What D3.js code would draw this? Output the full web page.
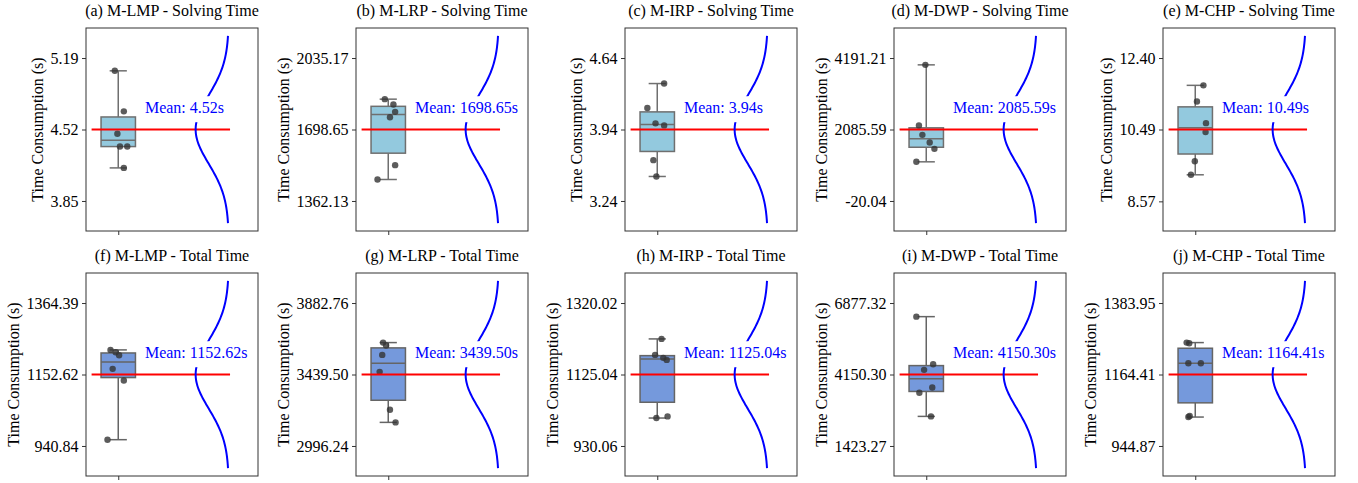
<!DOCTYPE html>
<html>
<head>
<meta charset="utf-8">
<script src="https://cdn.jsdelivr.net/npm/d3@7"></script>
<style>
  body { margin: 0; background: #fff; }
  text { font-family: "Liberation Serif", "Times New Roman", serif; }
</style>
</head>
<body>
<svg id="chart" width="1358" height="483"></svg>
<script>
// panel titles, row by row
const titles = [
    '(a) M-LMP - Solving Time', '(b) M-LRP - Solving Time', '(c) M-IRP - Solving Time',
    '(d) M-DWP - Solving Time', '(e) M-CHP - Solving Time',
    '(f) M-LMP - Total Time', '(g) M-LRP - Total Time', '(h) M-IRP - Total Time',
    '(i) M-DWP - Total Time', '(j) M-CHP - Total Time'
];

const means = [4.52, 1698.65, 3.94, 2085.59, 10.49, 1152.62, 3439.50, 1125.04, 4150.30, 1164.41];

// y tick labels (low, mean, high)
const yTicks = [
    ['3.85', '4.52', '5.19'],
    ['1362.13', '1698.65', '2035.17'],
    ['3.24', '3.94', '4.64'],
    ['-20.04', '2085.59', '4191.21'],
    ['8.57', '10.49', '12.40'],
    ['940.84', '1152.62', '1364.39'],
    ['2996.24', '3439.50', '3882.76'],
    ['930.06', '1125.04', '1320.02'],
    ['1423.27', '4150.30', '6877.32'],
    ['944.87', '1164.41', '1383.95']
];

// individual runs (seconds)
const runs = [
    [5.07, 4.69, 4.48, 4.36, 4.36, 4.16],
    [1841.5, 1816.4, 1781.8, 1756.6, 1530.7, 1463.3],
    [4.39, 4.15, 4.00, 3.98, 3.64, 3.48],
    [3989.9, 2203.4, 1928.5, 1702.8, 1516.3, 1133.4],
    [11.67, 11.24, 10.66, 10.42, 9.64, 9.28],
    [1225.5, 1218.6, 1209.8, 1169.4, 1134.9, 959.5],
    [3637.4, 3619.0, 3561.1, 3456.0, 3221.0, 3142.6],
    [1222.1, 1178.5, 1170.4, 1164.9, 1010.8, 1006.3],
    [6357.6, 4543.5, 4327.8, 3655.6, 3452.7, 2552.1],
    [1262.4, 1260.4, 1199.1, 1199.1, 1033.7, 1036.8]
];

// strip plot jitter (category units)
const jitter = [
    [-0.08, 0.13, -0.02, 0.04, 0.21, 0.13],
    [-0.08, 0.12, 0.16, 0.04, 0.16, -0.25],
    [0.16, -0.23, -0.04, 0.16, -0.09, -0.02],
    [-0.02, -0.17, -0.09, 0.08, 0.19, -0.23],
    [0.19, 0.04, 0.25, 0.24, -0.01, -0.10],
    [-0.18, -0.06, 0.02, -0.13, 0.13, -0.25],
    [-0.12, -0.05, -0.14, -0.20, 0.04, 0.17],
    [0.10, -0.05, 0.14, 0.22, 0.24, -0.02],
    [-0.23, 0.16, -0.05, 0.14, -0.16, 0.11],
    [-0.20, -0.14, -0.16, 0.13, -0.16, -0.13]
];

const boxColors = ['#93c9de', '#7599dc'];
const edgeColors = ['#6f6f6f', '#656565'];

const colLefts = [86, 356, 625, 894, 1163];
const rowTops = [28, 273];
const panelW = 172, panelH = 203;

const svg = d3.select('#chart');

titles.forEach((title, i) => {
    const row = Math.floor(i / 5), col = i % 5;
    const g = svg.append('g')
        .attr('transform', `translate(${colLefts[col]}, ${rowTops[row]})`);

    const ticks = yTicks[i].map(Number);
    const mean = means[i];
    const step = ticks[2] - ticks[1];
    const vals = runs[i];
    const sd = d3.deviation(vals);

    const x = d3.scaleLinear().domain([-0.75, 3.25]).range([0, panelW]);
    const y = d3.scaleLinear()
        .domain([mean - 1.42 * step, mean + 1.42 * step])
        .range([panelH, 0]);

    // box
    const sorted = vals.slice().sort(d3.ascending);
    const q1 = d3.quantile(sorted, 0.25);
    const med = d3.quantile(sorted, 0.5);
    const q3 = d3.quantile(sorted, 0.75);
    const lo = d3.min(vals), hi = d3.max(vals);
    const edge = edgeColors[row];

    g.append('line')
        .attr('x1', x(0)).attr('x2', x(0))
        .attr('y1', y(hi)).attr('y2', y(q3))
        .attr('stroke', edge).attr('stroke-width', 1.5);
    g.append('line')
        .attr('x1', x(0)).attr('x2', x(0))
        .attr('y1', y(q1)).attr('y2', y(lo))
        .attr('stroke', edge).attr('stroke-width', 1.5);
    [hi, lo].forEach(v => {
        g.append('line')
            .attr('x1', x(-0.2)).attr('x2', x(0.2))
            .attr('y1', y(v)).attr('y2', y(v))
            .attr('stroke', edge).attr('stroke-width', 1.5);
    });
    g.append('rect')
        .attr('x', x(-0.4)).attr('width', x(0.4) - x(-0.4))
        .attr('y', y(q3)).attr('height', y(q1) - y(q3))
        .attr('fill', boxColors[row])
        .attr('stroke', edge).attr('stroke-width', 1.5);
    g.append('line')
        .attr('x1', x(-0.4)).attr('x2', x(0.4))
        .attr('y1', y(med)).attr('y2', y(med))
        .attr('stroke', edge).attr('stroke-width', 1.5);

    // strip points
    g.selectAll('.pt')
        .data(vals).enter()
        .append('circle')
        .attr('class', 'pt')
        .attr('cx', (d, j) => x(jitter[i][j]))
        .attr('cy', d => y(d))
        .attr('r', 3.2)
        .attr('fill', '#333')
        .attr('fill-opacity', 0.8);

    // mean line
    g.append('line')
        .attr('x1', x(-0.62)).attr('x2', x(2.6))
        .attr('y1', y(mean)).attr('y2', y(mean))
        .attr('stroke', '#ff0000').attr('stroke-width', 2);

    // normal curve
    const curveVals = d3.range(0, 121).map(k => mean - 1.31 * step + k * (2.62 * step / 120));
    const curve = d3.line()
        .x(v => x(2.57 - 0.77 * Math.exp(-0.5 * Math.pow((v - mean) / sd, 2))))
        .y(v => y(v))
        .curve(d3.curveMonotoneY);
    g.append('path')
        .attr('d', curve(curveVals))
        .attr('fill', 'none')
        .attr('stroke', '#0000ff').attr('stroke-width', 2);

    // mean label with white box
    const lblY = y(mean) - 16.3;
    const lbl = g.append('text')
        .attr('x', x(0.62)).attr('y', lblY)
        .attr('font-size', 16)
        .attr('fill', '#0000ff')
        .text('Mean: ' + mean.toFixed(2) + 's');
    const bb = lbl.node().getBBox();
    g.insert('rect', 'text')
        .attr('x', bb.x - 4).attr('width', bb.width + 8)
        .attr('y', lblY - 17).attr('height', 26)
        .attr('fill', '#fff');

    // frame
    g.append('rect')
        .attr('width', panelW).attr('height', panelH)
        .attr('fill', 'none')
        .attr('stroke', '#333').attr('stroke-width', 1);

    // axes
    const yAxis = g.append('g')
        .call(d3.axisLeft(y)
            .tickValues(ticks)
            .tickFormat((d, j) => yTicks[i][j])
            .tickSize(4).tickPadding(3.5));
    yAxis.select('.domain').remove();
    yAxis.selectAll('text')
        .attr('font-size', 16).attr('fill', '#000')
        .attr('font-family', '"Liberation Serif", serif');
    yAxis.selectAll('line').attr('stroke', '#333');

    const xAxis = g.append('g')
        .attr('transform', `translate(0, ${panelH})`)
        .call(d3.axisBottom(x).tickValues([0]).tickFormat('').tickSize(4));
    xAxis.select('.domain').remove();
    xAxis.selectAll('line').attr('stroke', '#333');

    let maxW = 0;
    yAxis.selectAll('text').each(function() {
        maxW = Math.max(maxW, this.getBBox().width);
    });

    g.append('text')
        .attr('transform', `translate(${-7.5 - maxW - 7.6}, ${panelH / 2}) rotate(-90)`)
        .attr('text-anchor', 'middle')
        .attr('font-size', 16)
        .text('Time Consumption (s)');

    g.append('text')
        .attr('x', panelW / 2).attr('y', -12)
        .attr('text-anchor', 'middle')
        .attr('font-size', 16)
        .text(title);
});
</script>
</body>
</html>
